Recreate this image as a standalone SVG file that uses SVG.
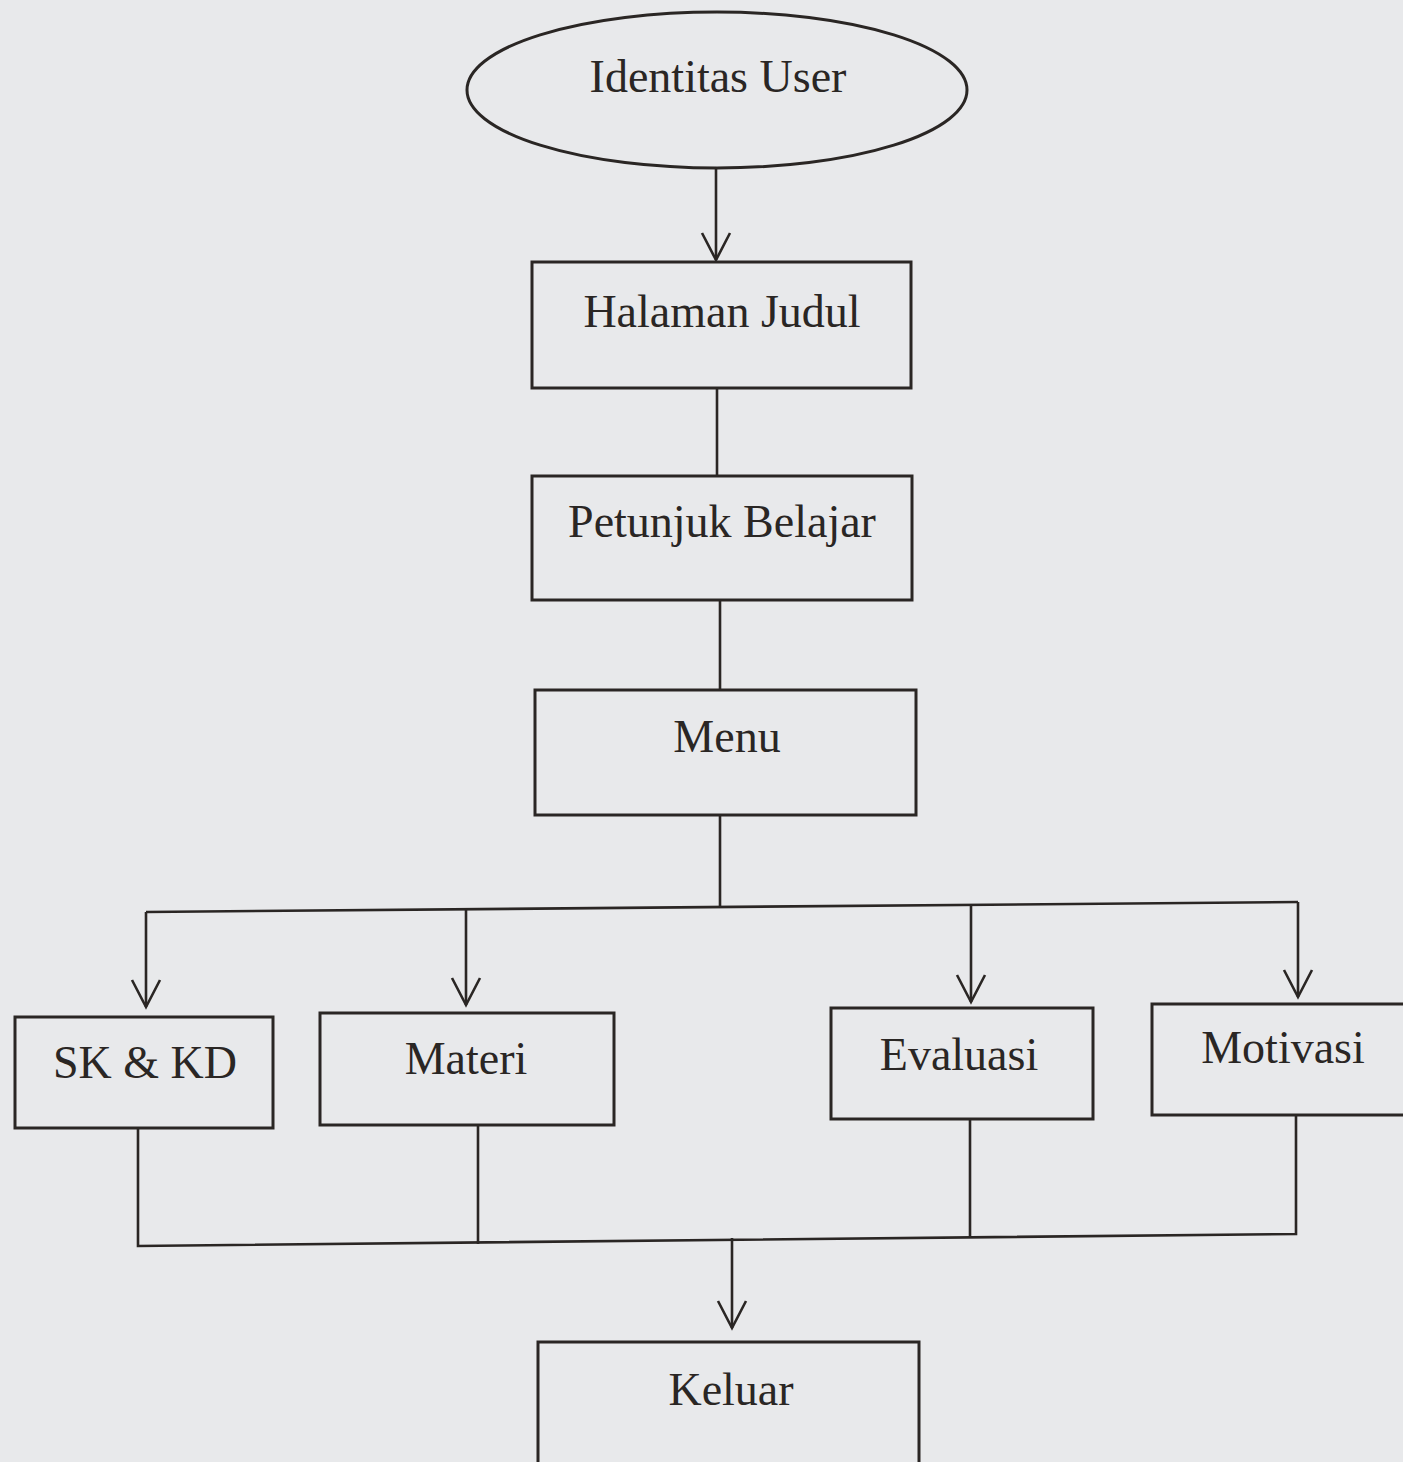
<svg xmlns="http://www.w3.org/2000/svg" width="1403" height="1462" viewBox="0 0 1403 1462">
<style>
.shape{fill:none;stroke:#2a2624;stroke-width:3}
.line{fill:none;stroke:#2a2624;stroke-width:2.6}
.lbl{font-family:"Liberation Serif","Times New Roman",serif;font-size:46px;fill:#2a2624;text-anchor:middle}
</style>
<defs>
<marker id="arr" markerUnits="userSpaceOnUse" markerWidth="40" markerHeight="40" refX="0" refY="0" viewBox="-30 -20 32 40" orient="auto" overflow="visible">
<path d="M-27,-14 L0,0 L-27,14" fill="none" stroke="#2a2624" stroke-width="2.6"/>
</marker>
</defs>
<rect width="1403" height="1462" fill="#e8e9eb"/>
<g id="connectors">
<path class="line" d="M716,168 L716,260" marker-end="url(#arr)"/>
<path class="line" d="M717,388 L717,476"/>
<path class="line" d="M720,600 L720,690"/>
<path class="line" d="M720,815 L720,908"/>
<path class="line" d="M146,912 L1298,902"/>
<path class="line" d="M146,912 L146,1007" marker-end="url(#arr)"/>
<path class="line" d="M466,909 L466,1005" marker-end="url(#arr)"/>
<path class="line" d="M971,905 L971,1002" marker-end="url(#arr)"/>
<path class="line" d="M1298,902 L1298,997" marker-end="url(#arr)"/>
<path class="line" d="M138,1128 L138,1246 L1296,1234 L1296,1115"/>
<path class="line" d="M478,1125 L478,1244"/>
<path class="line" d="M970,1119 L970,1237"/>
<path class="line" d="M732,1238 L732,1328" marker-end="url(#arr)"/>
</g>
<g id="identitas-user">
<ellipse class="shape" cx="717" cy="90" rx="250" ry="78"/>
<text class="lbl" x="718" y="92">Identitas User</text>
</g>
<g id="halaman-judul">
<rect class="shape" x="532" y="262" width="379" height="126"/>
<text class="lbl" x="722" y="327">Halaman Judul</text>
</g>
<g id="petunjuk-belajar">
<rect class="shape" x="532" y="476" width="380" height="124"/>
<text class="lbl" x="722" y="537">Petunjuk Belajar</text>
</g>
<g id="menu">
<rect class="shape" x="535" y="690" width="381" height="125"/>
<text class="lbl" x="727" y="752">Menu</text>
</g>
<g id="sk-kd">
<rect class="shape" x="15" y="1017" width="258" height="111"/>
<text class="lbl" x="145" y="1078">SK &amp; KD</text>
</g>
<g id="materi">
<rect class="shape" x="320" y="1013" width="294" height="112"/>
<text class="lbl" x="466" y="1074">Materi</text>
</g>
<g id="evaluasi">
<rect class="shape" x="831" y="1008" width="262" height="111"/>
<text class="lbl" x="959" y="1070">Evaluasi</text>
</g>
<g id="motivasi">
<rect class="shape" x="1152" y="1004" width="270" height="111"/>
<text class="lbl" x="1283" y="1063">Motivasi</text>
</g>
<g id="keluar">
<rect class="shape" x="538" y="1342" width="381" height="140"/>
<text class="lbl" x="731" y="1405">Keluar</text>
</g>
</svg>
